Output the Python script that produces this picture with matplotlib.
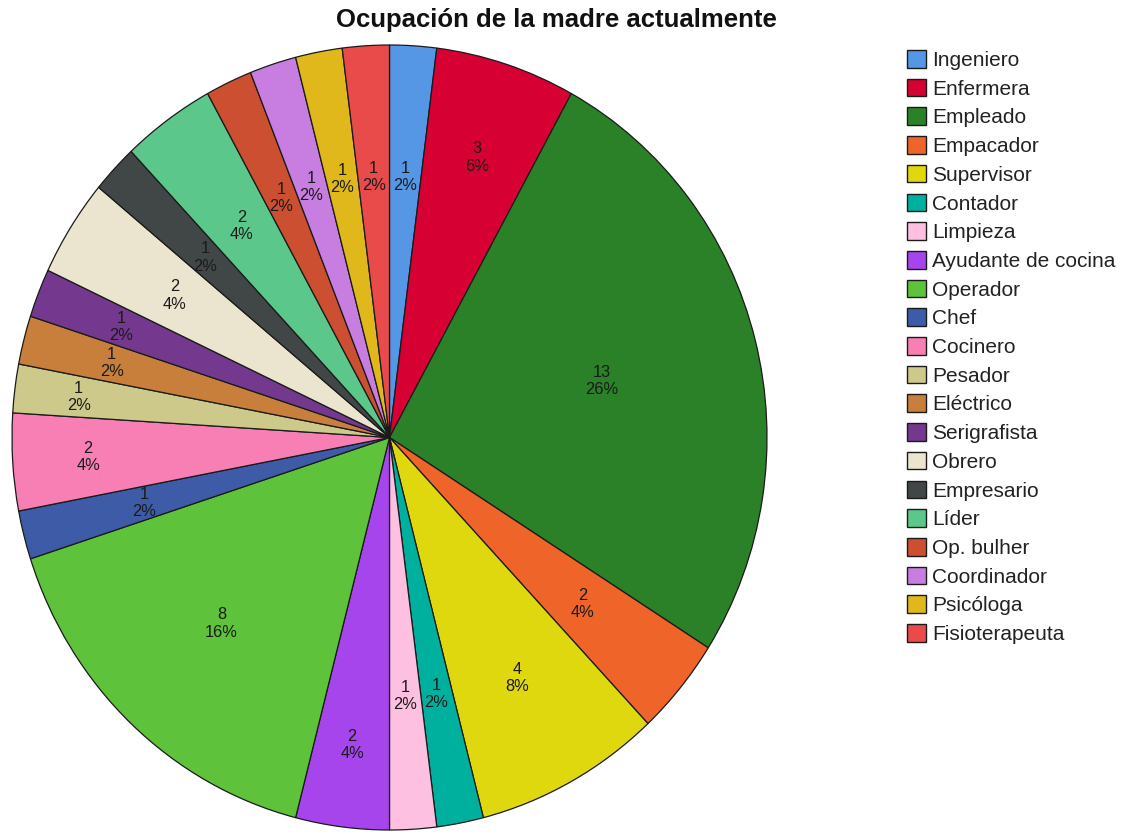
import matplotlib
matplotlib.use("Agg")
import matplotlib.pyplot as plt
from matplotlib.patches import Patch
import numpy as np

plt.rcParams['font.family'] = ['Liberation Sans', 'DejaVu Sans']

title = "Ocupación de la madre actualmente"
categories = ["Ingeniero", "Enfermera", "Empleado", "Empacador", "Supervisor",
              "Contador", "Limpieza", "Ayudante de cocina", "Operador", "Chef",
              "Cocinero", "Pesador", "Eléctrico", "Serigrafista", "Obrero",
              "Empresario", "Líder", "Op. bulher", "Coordinador", "Psicóloga",
              "Fisioterapeuta"]
counts = [1, 3, 13, 2, 4, 1, 1, 2, 8, 1, 2, 1, 1, 1, 2, 1, 2, 1, 1, 1, 1]

colors = ["#5597e5", "#d60032", "#2a8128", "#ef6429", "#e0d80e",
          "#00b09e", "#fdc0e1", "#a745ec", "#5ec23a", "#3d5ba6",
          "#f87fb4", "#cdc98b", "#c77f3b", "#74388f", "#ebe4cf",
          "#414646", "#5bc78a", "#cd4f31", "#c77ee0", "#e0b81c",
          "#e94b4b"]

# radial placement of each slice's value label (fraction of radius)
label_r = [0.665, 0.75, 0.58, 0.665, 0.70, 0.665, 0.66, 0.79, 0.65, 0.67,
           0.80, 0.83, 0.76, 0.765, 0.675, 0.67, 0.665, 0.675, 0.67, 0.67, 0.665]

W, H = 1139, 834
fig = plt.figure(figsize=(W / 100, H / 100), dpi=100)
ax = fig.add_axes([12 / W, 4 / H, 755 / W, 785 / H])

wedges, _ = ax.pie(counts, colors=colors, startangle=90, counterclock=False,
                   wedgeprops=dict(edgecolor="#1a1a1a", linewidth=0.9, clip_on=False))
ax.set_aspect('auto')
ax.set_xlim(-1, 1)
ax.set_ylim(-1, 1)
ax.axis('off')

total = sum(counts)
for w, v, r in zip(wedges, counts, label_r):
    mid = np.deg2rad((w.theta1 + w.theta2) / 2)
    pct = round(v / total * 100)
    ax.text(r * np.cos(mid), r * np.sin(mid), f"{v}\n{pct}%",
            ha='center', va='center', fontsize=11.8, linespacing=1.18,
            color='#1a1a1a')

fig.text(556 / W, 1 - 20 / H, title, ha='center', va='center',
         fontsize=18.5, fontweight='bold', color='#111111')

handles = [Patch(facecolor=c, edgecolor='#1a1a1a', linewidth=1.0) for c in colors]
fig.legend(handles, categories, loc='upper left',
           bbox_to_anchor=(907 / W, 1 - 50 / H), frameon=False,
           fontsize=15, borderpad=0, borderaxespad=0,
           handlelength=0.92, handleheight=0.92, handletextpad=0.3,
           labelspacing=0.42, labelcolor='#222222')

fig.savefig("out.png", dpi=100, facecolor='white')
